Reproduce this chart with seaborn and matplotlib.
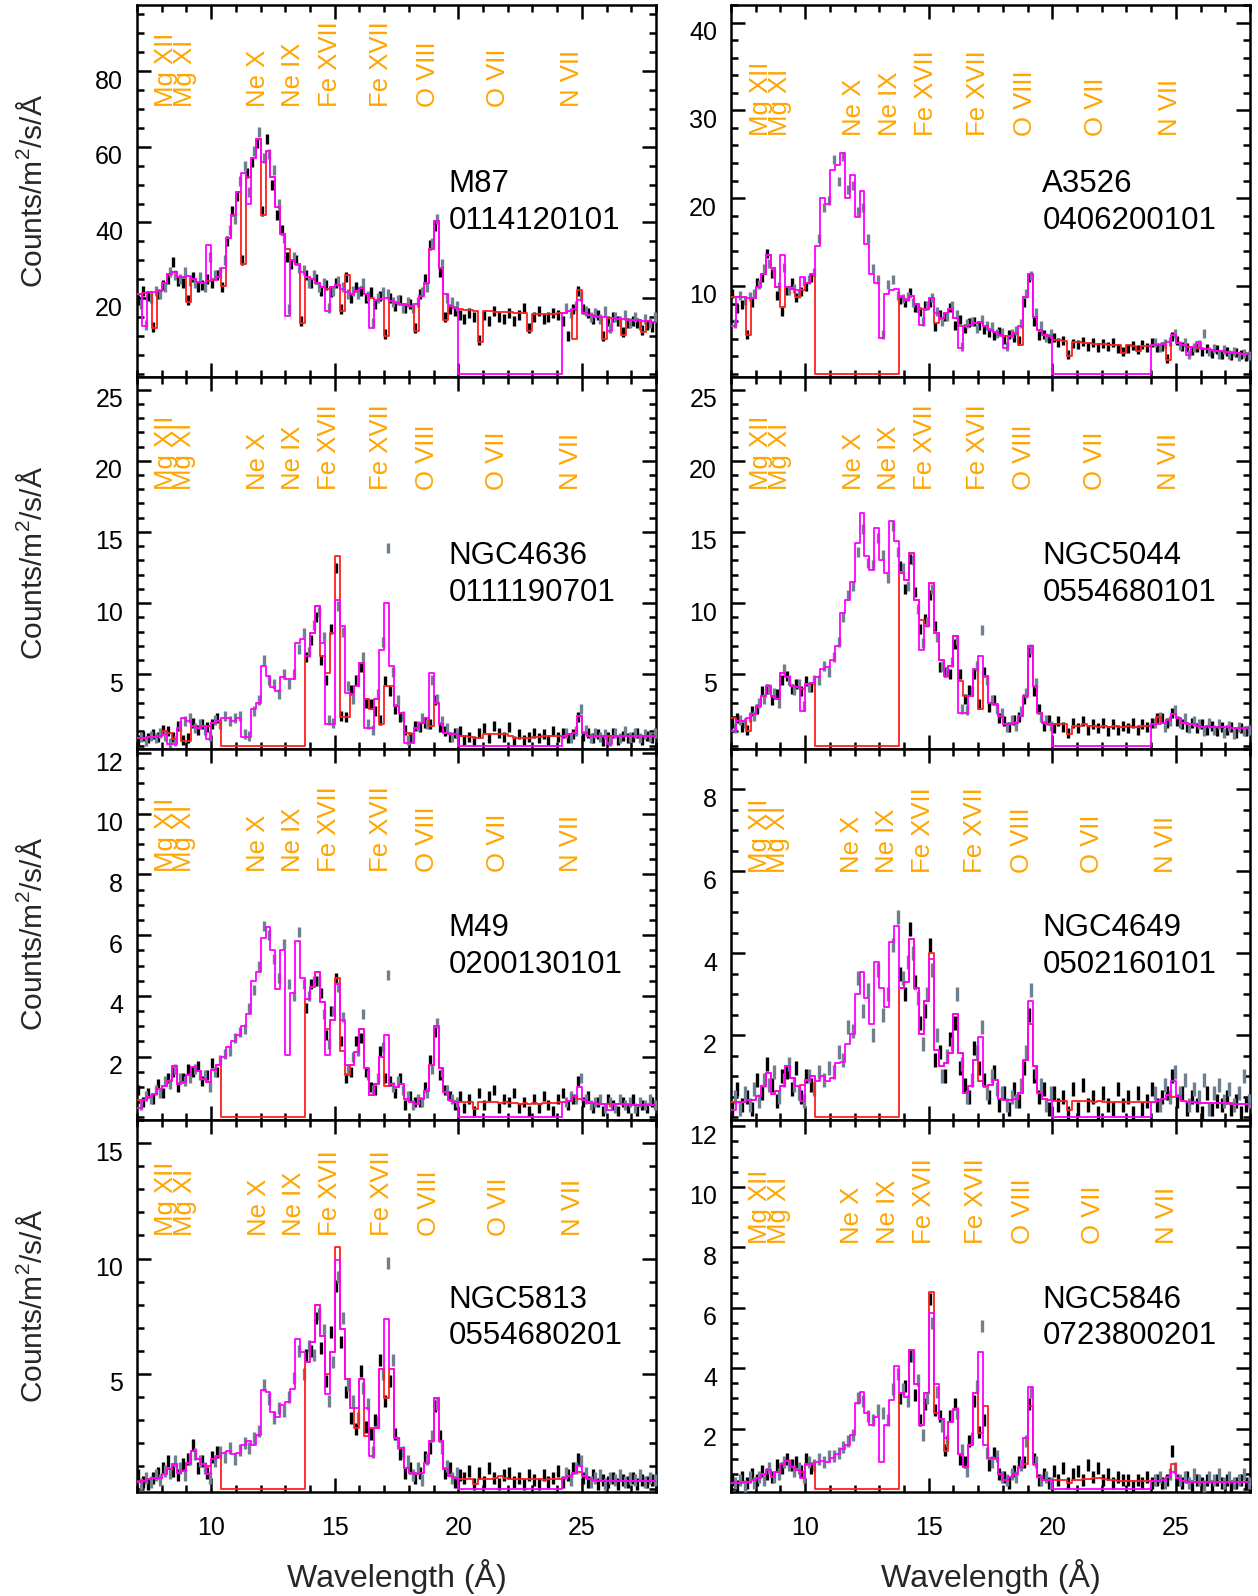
import numpy as np
import pandas as pd
import matplotlib
matplotlib.use("Agg")
import matplotlib.pyplot as plt
import matplotlib.transforms as mtransforms
import seaborn as sns
from matplotlib.ticker import MultipleLocator, FixedLocator

nan = float("nan")

# ---------------------------------------------------------------- data
galaxies = ["M87", "A3526", "NGC4636", "NGC5044", "M49", "NGC4649", "NGC5813", "NGC5846"]
obsids = ["0114120101", "0406200101", "0111190701", "0554680101",
          "0200130101", "0502160101", "0554680201", "0723800201"]
redshifts = [0.0043, 0.0114, 0.0031, 0.0093, 0.0033, 0.0037, 0.0066, 0.0057]
line_names = ["Mg XII", "Mg XI", "Ne X", "Ne IX", "Fe XVII", "Fe XVII", "O VIII", "O VII", "N VII"]
line_waves = [8.42, 9.17, 12.13, 13.55, 15.01, 17.10, 18.97, 21.80, 24.78]

# wavelength bin edges (Angstrom), 0.2 A bins from 7 to 28
wl_edges = np.round(7.0 + 0.2 * np.arange(106), 2)

# chip gaps (RGS1 = red, RGS2 = magenta)
rgs1_gaps = [None, (10.4, 13.8), (10.4, 13.8), (10.4, 13.8), (10.4, 13.8), (10.4, 13.8), (10.4, 13.8), (10.4, 13.8)]
rgs2_gaps = [(20.0, 24.2), (20.0, 24.0), (20.0, 24.2), (20.0, 24.0), (20.0, 24.2), (20.0, 24.0), (20.0, 24.2), (20.0, 24.0)]

# ---- M87
M87_model = [21.0, 21.3, 21.5, 21.7, 22.0, 24.0, 26.5, 27.0, 25.5, 25.5,
             25.8, 25.0, 24.3, 24.0, 24.5, 24.8, 25.5, 28.0, 36.0, 42.0,
             48.0, 53.0, 52.0, 57.0, 62.0, 56.0, 59.0, 52.0, 44.0, 37.0,
             33.0, 30.0, 29.0, 27.0, 25.5, 25.0, 24.0, 23.0, 22.5, 23.0,
             23.5, 22.5, 21.5, 21.0, 22.0, 22.8, 21.0, 20.0, 19.5, 19.8,
             20.0, 19.2, 18.8, 18.5, 18.3, 18.0, 18.5, 20.5, 24.0, 33.0,
             40.5, 28.0, 21.0, 18.0, 17.3, 17.0, 16.9, 16.8, 16.7, 16.6,
             16.5, 16.5, 16.4, 16.4, 16.3, 16.3, 16.2, 16.2, 16.1, 16.1,
             15.9, 15.9, 15.8, 15.8, 15.9, 16.0, 16.2, 16.6, 17.0, 19.5,
             16.0, 15.6, 15.3, 15.1, 15.0, 14.8, 14.7, 14.5, 14.4, 14.3,
             14.2, 14.1, 14.0, 13.9, 13.8]
M87_red_fix = [(7.6, 7.8, 12.2), (9.0, 9.2, 19.0), (10.4, 10.6, 23.3), (11.2, 11.4, 29.0),
               (12.0, 12.2, 42.0), (13.6, 13.8, 13.5), (15.2, 15.4, 16.5), (15.4, 15.6, 26.0),
               (17.0, 17.2, 10.0), (18.2, 18.4, 11.3), (19.4, 19.6, 14.3), (20.8, 21.0, 8.3),
               (22.8, 23.0, 11.3), (24.6, 24.8, 9.1), (24.8, 25.0, 22.2), (25.8, 26.0, 9.1),
               (26.6, 26.8, 10.3), (27.4, 27.6, 11.0)]
M87_mag_fix = [(7.2, 7.4, 12.6), (9.8, 10.0, 34.0), (11.4, 11.6, 45.0), (13.0, 13.2, 15.2),
               (14.6, 14.8, 16.5), (16.4, 16.6, 12.2), (26.0, 26.2, 11.3)]
M87_black = [19.5, 22.0, 20.5, 12.5, 21.0, 23.5, 25.0, 29.5, 24.5, 24.0,
             19.5, 25.5, 23.0, 23.5, 25.0, 24.0, 26.0, 23.0, 35.0, 43.0,
             47.0, 30.0, 53.0, 56.0, 61.0, 43.0, 62.0, 50.0, 42.0, 38.0,
             31.0, 29.0, 30.0, 14.0, 26.0, 24.0, 25.0, 22.0, 23.5, 21.5,
             24.0, 17.0, 25.5, 20.0, 23.0, 22.0, 20.0, 21.5, 18.5, 20.5,
             10.5, 20.0, 18.0, 19.5, 17.5, 18.5, 12.0, 21.0, 25.0, 34.0,
             39.0, 27.0, 15.0, 17.0, 16.5, 15.5, 14.5, 16.0, 15.0, 9.0,
             15.5, 14.0, 16.5, 15.0, 14.5, 16.0, 14.0, 15.5, 17.5, 12.0,
             15.0, 16.5, 14.5, 15.0, 16.0, 15.5, 14.0, 10.0, 17.0, 22.0,
             17.0, 16.0, 14.5, 15.5, 10.0, 14.0, 15.0, 14.0, 11.0, 13.5,
             14.0, 13.5, 11.5, 13.0, 12.5]
M87_gray = [18.5, 13.0, 20.0, 22.0, 21.0, 23.0, 27.0, 26.0, 25.0, 27.0,
            24.5, 24.0, 25.5, 23.0, 31.0, 26.0, 27.0, 30.0, 38.0, 41.0,
            51.0, 55.0, 48.0, 59.0, 64.0, 57.0, 58.0, 54.0, 45.0, 36.0,
            17.0, 31.0, 28.0, 27.5, 24.0, 26.0, 23.0, 24.0, 17.5, 22.0,
            24.5, 23.0, 21.0, 22.0, 21.0, 24.0, 20.5, 13.5, 20.0, 21.5,
            21.0, 19.0, 19.5, 17.5, 19.0, 17.5, 19.0, 21.5, 23.0, 34.5,
            41.0, 29.0, 20.0, 19.0, 18.0, nan, nan, nan, nan, nan,
            nan, nan, nan, nan, nan, nan, nan, nan, nan, nan,
            nan, nan, nan, nan, nan, nan, 17.5, 16.0, 18.0, 20.5,
            16.5, 15.0, 16.0, 14.5, 16.5, 12.0, 15.0, 14.0, 15.5, 13.5,
            15.0, 13.0, 14.5, 13.5, 15.0]

# ---- A3526
A3526_model = [8.8, 8.8, 8.8, 8.6, 8.6, 9.9, 11.4, 13.5, 12.0, 9.9,
               9.9, 9.9, 9.7, 9.5, 11.0, 10.3, 11.4, 14.5, 20.0, 19.3,
               23.2, 23.8, 25.2, 20.0, 22.6, 17.8, 20.8, 14.8, 11.4, 10.3,
               9.5, 9.1, 9.5, 9.7, 8.8, 8.4, 8.9, 8.0, 7.4, 7.4,
               8.6, 6.9, 6.3, 6.9, 7.4, 6.3, 5.4, 5.4, 5.6, 5.8,
               5.9, 5.4, 5.0, 4.8, 4.4, 4.3, 4.3, 4.6, 5.4, 8.8,
               11.4, 6.5, 5.0, 4.4, 4.3, 3.9, 3.8, 3.7, 3.6, 3.6,
               3.6, 3.5, 3.5, 3.4, 3.4, 3.4, 3.3, 3.3, 3.3, 3.3,
               3.3, 3.2, 3.2, 3.2, 3.2, 3.3, 3.3, 3.4, 3.6, 4.4,
               3.5, 3.3, 3.1, 3.0, 2.9, 2.8, 2.8, 2.7, 2.6, 2.6,
               2.5, 2.4, 2.4, 2.3, 2.2]
A3526_red_fix = [(7.6, 7.8, 4.4), (9.0, 9.2, 7.6), (9.6, 9.8, 8.8), (9.8, 10.0, 9.5),
                 (15.2, 15.4, 5.8), (18.6, 18.8, 3.3), (20.6, 20.8, 2.0), (22.8, 23.0, 2.4),
                 (23.4, 23.6, 2.6), (24.6, 24.8, 1.6)]
A3526_mag_fix = [(7.0, 7.2, 5.4), (9.0, 9.2, 13.5), (13.0, 13.2, 4.1), (14.6, 14.8, 5.6),
                 (16.2, 16.4, 2.9), (18.0, 18.2, 2.9), (25.4, 25.6, 2.1), (25.8, 26.0, 3.6)]
A3526_black = [9.2, 7.5, 8.0, 4.5, 8.2, 10.5, 11.0, 13.8, 11.5, 9.0,
               7.2, 9.6, 10.4, 8.8, 9.4, 10.0, 11.0, nan, nan, nan,
               nan, nan, nan, nan, nan, nan, nan, nan, nan, nan,
               nan, nan, nan, nan, 8.5, 8.2, 9.3, 7.6, 7.1, 7.8,
               8.2, 5.5, 6.8, 6.6, 7.6, 5.6, 6.2, 5.2, 5.9, 6.0,
               5.6, 5.1, 4.8, 4.4, 4.9, 4.0, 4.5, 4.2, 3.8, 8.2,
               11.0, 6.0, 4.4, 4.5, 4.1, 4.2, 3.6, 3.9, 2.3, 3.5,
               3.4, 3.7, 3.2, 3.6, 3.1, 3.5, 3.2, 3.6, 2.9, 2.6,
               2.9, 3.3, 2.8, 3.4, 3.1, 3.6, 3.0, 3.2, 1.8, 4.3,
               3.8, 3.2, 3.0, 2.7, 3.1, 2.6, 2.9, 2.4, 2.8, 2.3,
               2.6, 2.1, 2.5, 2.2, 2.0]
A3526_gray = [5.8, 9.0, 8.4, 8.9, 9.2, 10.2, 12.0, 12.6, 11.5, 10.0,
              12.2, 9.6, 9.8, 9.2, 10.6, 10.8, 11.6, 15.5, 19.0, 19.8,
              24.5, 22.0, 24.8, 21.0, 21.5, 18.5, 19.0, 15.5, 12.0, 10.8,
              4.5, 10.2, 10.8, 9.0, 8.6, 8.9, 8.2, 7.5, 6.0, 7.8,
              8.8, 7.2, 6.0, 6.6, 7.8, 6.8, 3.2, 5.8, 6.0, 5.2,
              6.2, 5.6, 5.4, 4.6, 4.8, 3.2, 4.6, 5.0, 5.8, 9.2,
              11.2, 7.0, 5.6, 4.2, 4.6, nan, nan, nan, nan, nan,
              nan, nan, nan, nan, nan, nan, nan, nan, nan, nan,
              nan, nan, nan, nan, nan, 3.6, 3.1, 3.5, 3.7, 4.6,
              3.3, 3.6, 2.3, 3.1, 3.4, 4.6, 2.6, 2.9, 2.3, 2.8,
              2.2, 2.6, 2.0, 2.4, 2.1]

# ---- NGC4636
NGC4636_model = [0.5, 0.5, 0.6, 0.6, 0.7, 0.8, 0.85, 0.8, 1.2, 1.9,
                 1.75, 1.4, 1.2, 1.4, 1.4, 1.6, 1.7, 1.9, 1.9, 1.7,
                 1.9, 2.0, 2.0, 2.6, 3.0, 5.6, 4.9, 4.1, 3.8, 4.8,
                 4.65, 4.65, 7.2, 7.5, 6.3, 7.9, 9.8, 7.2, 5.1, 7.9,
                 10.2, 8.4, 3.7, 3.6, 4.2, 5.8, 3.3, 2.6, 3.3, 6.7,
                 10.0, 5.6, 2.8, 2.3, 0.9, 0.8, 1.2, 1.6, 1.9, 5.1,
                 3.0, 1.5, 0.9, 0.8, 0.8, 0.7, 0.7, 0.6, 0.5, 0.5,
                 0.8, 0.8, 0.8, 0.8, 0.8, 0.7, 0.5, 0.5, 0.5, 0.5,
                 0.6, 0.6, 0.7, 0.7, 0.7, 0.7, 0.7, 0.8, 0.9, 2.1,
                 0.9, 0.7, 0.7, 0.7, 0.7, 0.7, 0.7, 0.7, 0.7, 0.7,
                 0.7, 0.7, 0.7, 0.7, 0.7]
NGC4636_red_fix = [(8.0, 8.2, 1.05), (8.4, 8.6, 0.47), (8.8, 9.2, 0.35), (14.4, 14.6, 6.3),
                   (15.0, 15.2, 13.3), (15.2, 15.6, 2.0), (16.2, 16.4, 3.3), (16.8, 17.0, 1.5),
                   (17.0, 17.4, 4.2), (18.8, 19.0, 1.4)]
NGC4636_mag_fix = [(8.2, 8.6, 0.1), (9.8, 10.0, 0.47), (11.2, 11.6, 0.6), (14.6, 15.0, 1.5),
                   (16.2, 16.6, 1.2), (17.8, 18.2, 0.2), (26.0, 26.2, 0.1)]
NGC4636_black = [0.4, 0.7, 0.5, 0.8, 0.6, 1.1, 1.0, 0.6, 1.4, 0.4,
                 0.5, 1.6, 1.1, 1.5, 1.3, 1.5, 1.9, nan, nan, nan,
                 nan, nan, nan, nan, nan, nan, nan, nan, nan, nan,
                 nan, nan, nan, nan, 6.2, 7.4, 9.0, 6.0, 4.6, 8.2,
                 12.5, 2.1, 2.0, 3.9, 4.6, 5.5, 3.0, 2.9, 2.4, 1.8,
                 4.5, 3.8, 2.6, 2.0, 1.1, 0.6, 1.4, 1.3, 1.6, 1.5,
                 3.2, 1.3, 1.0, 0.6, 0.9, 1.0, 0.4, 0.6, 0.3, 0.9,
                 1.2, 0.5, 1.4, 0.9, 0.6, 1.3, 0.3, 0.8, 0.4, 0.6,
                 0.9, 0.5, 0.8, 0.4, 1.0, 0.6, 0.9, 0.5, 0.8, 2.0,
                 0.7, 0.9, 0.5, 0.8, 0.3, 0.6, 0.9, 0.4, 0.7, 0.5,
                 0.6, 0.9, 0.4, 0.7, 0.5]
NGC4636_gray = [0.6, 0.3, 0.7, 0.5, 0.9, 0.7, 0.2, 0.3, 1.4, 1.7,
                1.9, 1.2, 1.5, 1.1, 0.7, 1.8, 1.5, 2.1, 1.7, 1.9,
                2.1, 0.8, 0.7, 2.4, 3.2, 6.0, 4.6, 4.3, 3.6, 5.0,
                4.3, 5.0, 6.8, 7.9, 6.6, 8.5, 9.4, 7.6, 1.8, 1.6,
                9.8, 8.0, 4.2, 3.3, 4.6, 6.2, 1.5, 1.1, 3.6, 7.3,
                13.9, 5.2, 3.2, 2.1, 0.4, 0.5, 1.4, 1.9, 1.5, 4.6,
                3.3, 1.7, 1.2, 0.6, 0.9, nan, nan, nan, nan, nan,
                nan, nan, nan, nan, nan, nan, nan, nan, nan, nan,
                nan, nan, nan, nan, nan, nan, 0.9, 0.5, 1.0, 2.6,
                1.1, 0.5, 0.9, 0.6, 0.8, 0.3, 0.9, 0.5, 1.0, 0.6,
                0.9, 0.5, 0.8, 0.6, 0.9]

# ---- NGC5044
NGC5044_model = [1.75, 1.75, 1.75, 1.9, 2.2, 2.8, 3.5, 4.2, 3.5, 3.3,
                 5.1, 4.8, 4.2, 4.1, 4.0, 4.3, 4.4, 4.8, 5.35, 5.5,
                 6.0, 7.0, 9.3, 10.2, 11.5, 14.2, 16.3, 13.3, 12.3, 15.3,
                 13.0, 12.1, 15.8, 14.4, 12.1, 11.6, 13.5, 10.2, 8.8, 8.4,
                 11.4, 7.9, 6.0, 4.9, 5.6, 7.7, 5.6, 3.5, 3.5, 5.35,
                 6.3, 4.9, 3.0, 2.9, 2.1, 1.5, 1.5, 1.6, 2.1, 3.5,
                 7.0, 4.2, 2.3, 1.6, 1.5, 1.5, 1.5, 1.5, 0.8, 1.4,
                 1.4, 1.5, 1.4, 1.4, 1.3, 1.4, 1.3, 1.4, 1.3, 1.3,
                 1.4, 1.3, 1.3, 1.4, 1.4, 1.5, 1.5, 1.6, 1.8, 2.2,
                 1.9, 1.6, 1.5, 1.5, 1.4, 1.3, 1.4, 1.3, 1.3, 1.3,
                 1.3, 1.2, 1.2, 1.2, 1.2]
NGC5044_red_fix = [(7.0, 7.2, 1.9), (7.6, 7.8, 1.05), (16.2, 16.4, 4.5), (17.0, 17.2, 2.6), (24.2, 24.4, 2.0)]
NGC5044_mag_fix = [(7.0, 7.2, 1.05), (9.8, 10.0, 2.4), (14.6, 14.8, 6.7), (16.2, 16.6, 2.3)]
NGC5044_black = [1.6, 1.9, 1.3, 1.1, 2.4, 2.6, 3.8, 4.0, 3.2, 3.6,
                 4.6, 4.9, 4.0, 4.3, 3.8, 4.5, 4.1, nan, nan, nan,
                 nan, nan, nan, nan, nan, nan, nan, nan, nan, nan,
                 nan, nan, nan, nan, 12.6, 11.0, 13.1, 10.8, 8.2, 8.9,
                 10.6, 8.4, 5.5, 5.2, 5.0, 7.1, 5.0, 3.3, 3.9, 5.0,
                 2.9, 5.2, 2.7, 3.2, 1.9, 1.7, 1.3, 1.8, 2.0, 3.3,
                 6.6, 3.8, 2.6, 1.4, 1.8, 1.2, 1.7, 1.3, 0.9, 1.6,
                 1.2, 1.7, 1.1, 1.5, 1.2, 1.6, 1.0, 1.5, 1.1, 1.4,
                 1.2, 1.6, 1.1, 1.5, 1.3, 1.6, 1.9, 1.9, 1.6, 2.3,
                 1.7, 1.5, 1.3, 1.6, 1.2, 1.5, 1.1, 1.4, 1.0, 1.3,
                 1.1, 1.3, 0.9, 1.2, 1.0]
NGC5044_gray = [1.2, 1.8, 1.6, 2.0, 2.1, 3.0, 3.3, 4.0, 3.7, 3.0,
                5.4, 4.6, 3.9, 4.3, 2.8, 4.1, 4.6, 4.6, 5.6, 5.2,
                6.2, 7.3, 9.0, 10.6, 11.2, 13.6, 15.2, 12.8, 12.7, 14.6,
                13.4, 11.8, 15.4, 13.6, 12.5, 11.2, 13.0, 9.6, 7.2, 8.7,
                11.0, 7.6, 5.6, 5.2, 5.9, 7.4, 2.6, 2.5, 3.8, 5.6,
                8.1, 4.6, 3.2, 2.6, 2.3, 1.3, 1.8, 1.4, 2.4, 3.7,
                6.8, 4.4, 2.0, 1.8, 1.4, nan, nan, nan, nan, nan,
                nan, nan, nan, nan, nan, nan, nan, nan, nan, nan,
                nan, nan, nan, nan, nan, 1.6, 2.0, 1.3, 1.7, 2.5,
                1.6, 1.9, 1.2, 1.7, 1.5, 1.0, 1.6, 1.1, 1.5, 0.9,
                1.4, 0.8, 1.3, 1.0, 1.1]

# ---- M49
M49_model = [0.56, 0.58, 0.67, 0.77, 0.93, 1.04, 1.2, 1.68, 1.1, 1.15,
             1.41, 1.65, 1.52, 1.25, 1.15, 1.57, 1.73, 2.0, 2.3, 2.5,
             2.7, 3.0, 3.4, 4.5, 4.8, 5.9, 6.27, 5.5, 4.24, 5.5,
             4.6, 4.1, 5.8, 4.6, 3.9, 4.3, 4.8, 3.8, 2.9, 3.2,
             4.4, 3.2, 1.73, 1.73, 2.16, 2.9, 1.63, 0.72, 1.1, 2.0,
             2.7, 1.1, 0.99, 1.1, 0.61, 0.5, 0.45, 0.61, 0.88, 1.73,
             3.0, 1.63, 0.83, 0.58, 0.5, 0.5, 0.5, 0.5, 0.26, 0.5,
             0.5, 0.52, 0.5, 0.48, 0.5, 0.47, 0.48, 0.45, 0.47, 0.45,
             0.46, 0.45, 0.47, 0.46, 0.48, 0.5, 0.52, 0.55, 0.7, 0.99,
             0.56, 0.48, 0.46, 0.45, 0.45, 0.44, 0.44, 0.43, 0.43, 0.42,
             0.42, 0.41, 0.41, 0.4, 0.4]
M49_red_fix = [(15.0, 15.2, 4.6), (15.2, 15.4, 2.2), (15.4, 15.6, 1.4), (17.0, 17.2, 1.04), (24.8, 25.0, 0.6)]
M49_mag_fix = [(7.0, 7.2, 0.3), (13.0, 13.2, 2.05), (14.6, 14.8, 2.05), (26.0, 26.2, 0.24)]
M49_black = [0.9, 0.5, 0.8, 0.6, 1.1, 0.8, 1.3, 1.5, 1.0, 1.3,
             1.6, 1.5, 1.7, 1.2, 1.4, 1.8, 1.5, nan, nan, nan,
             nan, nan, nan, nan, nan, nan, nan, nan, nan, nan,
             nan, nan, nan, nan, 3.6, 4.4, 4.5, 4.1, 2.7, 3.5,
             4.6, 2.5, 1.3, 1.5, 2.5, 2.6, 1.5, 1.0, 0.9, 2.2,
             1.3, 1.2, 0.8, 1.3, 0.4, 0.7, 0.5, 0.5, 1.0, 1.9,
             2.8, 1.4, 0.9, 0.7, 0.4, 0.7, 0.3, 0.6, 0.2, 0.8,
             0.4, 0.7, 0.9, 0.3, 0.6, 0.5, 0.8, 0.3, 0.5, 0.2,
             0.6, 0.3, 0.7, 0.4, 0.2, 0.6, 0.8, 0.4, 0.6, 1.2,
             0.5, 0.7, 0.3, 0.5, 0.2, 0.6, 0.4, 0.2, 0.5, 0.3,
             0.6, 0.2, 0.4, 0.3, 0.5]
M49_gray = [0.4, 0.7, 0.6, 0.9, 0.8, 1.2, 1.1, 1.6, 1.3, 1.2,
            1.3, 1.6, 1.4, 1.4, 1.0, 1.5, 1.9, 2.1, 2.2, 2.6,
            2.8, 2.9, 3.6, 4.2, 5.0, 6.3, 6.0, 5.2, 4.6, 5.7,
            4.4, 4.0, 6.1, 4.4, 4.0, 4.5, 4.5, 3.4, 2.4, 3.5,
            4.3, 3.3, 1.6, 2.0, 2.2, 3.4, 1.4, 0.9, 1.3, 2.3,
            4.7, 1.0, 1.2, 0.9, 0.7, 0.4, 0.6, 0.5, 0.8, 1.6,
            3.1, 1.5, 0.9, 0.6, 0.5, nan, nan, nan, nan, nan,
            nan, nan, nan, nan, nan, nan, nan, nan, nan, nan,
            nan, nan, nan, nan, nan, nan, 0.5, 0.7, 0.6, 1.3,
            0.6, 0.4, 0.5, 0.6, 0.3, 0.5, 0.3, 0.6, 0.4, 0.5,
            0.3, 0.5, 0.4, 0.6, 0.4]

# ---- NGC4649
NGC4649_model = [0.37, 0.37, 0.38, 0.41, 0.41, 0.53, 0.76, 1.08, 0.57, 0.65,
                 0.76, 1.24, 0.96, 0.76, 0.8, 0.92, 1.0, 0.88, 1.0, 0.88,
                 0.96, 1.32, 1.36, 1.8, 2.04, 3.0, 3.55, 2.92, 2.28, 3.8,
                 3.16, 2.68, 4.27, 4.67, 3.16, 3.31, 4.35, 3.16, 2.04, 2.84,
                 3.87, 1.64, 1.24, 1.32, 1.56, 2.52, 1.56, 0.6, 0.76, 1.4,
                 1.96, 0.76, 0.8, 0.92, 0.45, 0.41, 0.41, 0.45, 0.6, 1.4,
                 2.84, 1.24, 0.6, 0.45, 0.41, 0.4, 0.4, 0.39, 0.17, 0.39,
                 0.39, 0.4, 0.39, 0.38, 0.39, 0.38, 0.38, 0.37, 0.38, 0.37,
                 0.38, 0.37, 0.37, 0.37, 0.38, 0.38, 0.4, 0.45, 0.55, 0.88,
                 0.53, 0.4, 0.37, 0.37, 0.36, 0.36, 0.35, 0.35, 0.34, 0.34,
                 0.34, 0.33, 0.33, 0.33, 0.33]
NGC4649_red_fix = [(15.0, 15.2, 4.0), (17.0, 17.2, 0.88), (19.0, 19.2, 2.28), (24.8, 25.0, 0.5)]
NGC4649_mag_fix = [(7.0, 7.2, 0.17), (9.8, 10.0, 0.4)]
NGC4649_black = [0.2, 0.7, 0.3, 0.5, 0.2, 0.9, 0.6, 1.3, 0.8, 0.4,
                 1.0, 1.1, 0.7, 1.2, 0.5, 1.0, 0.8, nan, nan, nan,
                 nan, nan, nan, nan, nan, nan, nan, nan, nan, nan,
                 nan, nan, nan, nan, 3.5, 3.0, 4.6, 3.3, 2.3, 2.6,
                 4.2, 1.4, 1.6, 1.0, 1.9, 2.3, 1.2, 0.8, 0.5, 1.7,
                 1.2, 0.9, 0.5, 1.1, 0.3, 0.6, 0.2, 0.7, 0.4, 1.2,
                 2.5, 1.0, 0.5, 0.7, 0.2, 0.6, 0.3, 0.5, 0.1, 0.7,
                 0.2, 0.8, 0.3, 0.5, 0.1, 0.6, 0.3, 0.2, 0.7, 0.3,
                 0.5, 0.1, 0.6, 0.2, 0.4, 0.7, 0.3, 0.5, 0.6, 1.0,
                 0.4, 0.6, 0.2, 0.5, 0.3, 0.1, 0.6, 0.2, 0.4, 0.3,
                 0.5, 0.2, 0.4, 0.1, 0.3]
NGC4649_gray = [0.5, 0.2, 0.6, 0.3, 0.7, 0.4, 0.9, 0.8, 1.1, 0.5,
                0.9, 1.3, 0.8, 0.6, 0.4, 1.0, 0.7, 1.1, 0.9, 1.2,
                1.1, 1.6, 1.4, 2.2, 2.1, 3.4, 2.6, 3.1, 2.0, 3.6,
                2.5, 3.0, 4.2, 4.9, 3.4, 3.8, 4.0, 2.9, 1.8, 3.0,
                3.6, 2.0, 1.0, 1.5, 1.8, 3.0, 1.3, 0.5, 0.9, 1.6,
                2.2, 0.6, 1.0, 0.7, 0.6, 0.3, 0.5, 0.4, 0.8, 1.6,
                3.1, 1.1, 0.8, 0.3, 0.6, nan, nan, nan, nan, nan,
                nan, nan, nan, nan, nan, nan, nan, nan, nan, nan,
                nan, nan, nan, nan, nan, 0.6, 0.3, 0.8, 0.5, 1.1,
                0.6, 0.9, 0.3, 0.7, 0.5, 0.9, 0.2, 0.6, 0.8, 0.4,
                0.7, 0.3, 0.6, 1.0, 0.4]

# ---- NGC5813
NGC5813_model = [0.36, 0.36, 0.43, 0.5, 0.5, 0.64, 0.86, 1.07, 0.71, 0.79,
                 1.14, 1.64, 1.29, 1.07, 1.0, 1.29, 1.43, 1.57, 1.64, 1.5,
                 1.57, 1.93, 2.07, 1.93, 2.36, 4.29, 4.21, 3.36, 3.14, 3.64,
                 3.79, 4.36, 6.5, 5.93, 5.5, 6.36, 8.0, 6.64, 4.64, 5.93,
                 9.93, 6.93, 4.79, 3.5, 3.5, 4.79, 3.5, 1.43, 2.64, 5.21,
                 7.36, 5.21, 2.21, 1.79, 0.93, 0.71, 0.64, 0.71, 1.14, 2.07,
                 3.93, 2.07, 0.86, 0.57, 0.5, 0.45, 0.44, 0.43, 0.21, 0.43,
                 0.43, 0.44, 0.5, 0.55, 0.47, 0.44, 0.43, 0.42, 0.43, 0.42,
                 0.42, 0.42, 0.41, 0.42, 0.43, 0.45, 0.47, 0.55, 0.7, 1.0,
                 0.57, 0.42, 0.38, 0.36, 0.36, 0.36, 0.36, 0.36, 0.35, 0.35,
                 0.35, 0.35, 0.35, 0.35, 0.35]
NGC5813_red_fix = [(14.6, 14.8, 5.0), (15.0, 15.2, 10.5), (15.8, 16.0, 2.64), (16.2, 16.4, 2.3),
                   (16.4, 16.6, 2.64), (17.0, 17.2, 3.93), (24.8, 25.0, 0.75)]
NGC5813_mag_fix = [(7.0, 7.2, 0.29), (9.8, 10.0, 0.64), (14.6, 14.8, 4.14)]
NGC5813_black = [0.6, 0.3, 0.2, 0.5, 0.7, 0.9, 1.2, 0.8, 0.6, 1.1,
                 1.3, 1.9, 0.9, 1.2, 0.7, 1.4, 1.6, nan, nan, nan,
                 nan, nan, nan, nan, nan, nan, nan, nan, nan, nan,
                 nan, nan, nan, nan, 5.8, 6.0, 7.4, 6.1, 4.7, 6.8,
                 8.8, 6.4, 4.2, 3.1, 2.6, 5.1, 2.7, 2.4, 3.0, 5.6,
                 3.8, 4.7, 2.4, 1.5, 0.7, 0.9, 0.5, 0.7, 1.4, 1.8,
                 3.6, 2.3, 0.7, 0.9, 0.3, 0.6, 0.5, 0.8, 0.2, 0.7,
                 0.3, 0.9, 0.5, 0.2, 0.6, 0.7, 0.3, 0.5, 0.2, 0.6,
                 0.4, 0.2, 0.6, 0.3, 0.5, 0.8, 0.3, 0.6, 0.9, 1.3,
                 0.5, 0.3, 0.6, 0.2, 0.4, 0.3, 0.5, 0.2, 0.4, 0.3,
                 0.5, 0.2, 0.4, 0.3, 0.4]
NGC5813_gray = [0.2, 0.5, 0.3, 0.6, 0.4, 0.8, 0.7, 1.2, 0.9, 0.6,
                1.3, 1.5, 1.2, 0.9, 0.5, 1.2, 1.6, 1.4, 1.8, 1.3,
                1.7, 2.0, 1.8, 2.2, 2.5, 4.5, 3.9, 3.1, 3.5, 3.4,
                4.0, 4.8, 6.0, 5.0, 6.2, 5.8, 7.6, 6.9, 3.8, 5.5,
                9.2, 7.4, 4.5, 3.8, 3.1, 4.4, 3.7, 1.6, 2.9, 5.0,
                9.8, 5.6, 2.0, 1.6, 1.2, 0.6, 0.9, 0.4, 1.3, 2.3,
                3.7, 1.8, 1.0, 0.5, 0.7, nan, nan, nan, nan, nan,
                nan, nan, nan, nan, nan, nan, nan, nan, nan, nan,
                nan, nan, nan, nan, nan, nan, 0.7, 0.4, 0.9, 1.2,
                0.7, 0.3, 0.5, 0.6, 0.2, 0.5, 0.4, 0.6, 0.3, 0.5,
                0.4, 0.6, 0.3, 0.5, 0.4]

# ---- NGC5846
NGC5846_model = [0.19, 0.21, 0.24, 0.24, 0.3, 0.35, 0.51, 0.62, 0.4, 0.56,
                 0.83, 0.94, 0.72, 0.62, 0.56, 0.83, 0.83, 0.88, 0.94, 0.88,
                 1.04, 1.15, 1.31, 1.47, 1.79, 2.85, 3.2, 2.53, 2.11, 2.37,
                 2.4, 2.11, 2.96, 4.07, 3.17, 3.06, 4.6, 3.49, 2.11, 3.17,
                 5.83, 3.49, 2.32, 1.68, 2.21, 2.64, 1.15, 0.72, 1.47, 3.17,
                 4.55, 1.47, 1.04, 1.04, 0.51, 0.3, 0.4, 0.51, 0.72, 1.68,
                 3.38, 0.83, 0.4, 0.3, 0.3, 0.3, 0.3, 0.3, 0.2, 0.3,
                 0.31, 0.32, 0.33, 0.35, 0.35, 0.33, 0.3, 0.3, 0.28, 0.28,
                 0.27, 0.26, 0.26, 0.25, 0.26, 0.25, 0.26, 0.3, 0.4, 0.56,
                 0.35, 0.26, 0.24, 0.24, 0.24, 0.24, 0.24, 0.23, 0.23, 0.23,
                 0.23, 0.23, 0.23, 0.23, 0.23]
NGC5846_red_fix = [(15.0, 15.2, 6.52), (15.2, 15.4, 2.5), (15.6, 15.8, 1.26), (17.0, 17.2, 1.84),
                   (17.2, 17.4, 2.74), (18.8, 19.0, 0.83), (19.0, 19.2, 2.74), (24.8, 25.0, 0.83)]
NGC5846_mag_fix = [(9.8, 10.0, 0.35), (13.0, 13.2, 0.88)]
NGC5846_black = [0.3, 0.1, 0.4, 0.2, 0.5, 0.3, 0.6, 0.5, 0.4, 0.8,
                 0.7, 1.0, 0.8, 0.9, 0.6, 1.0, 0.7, nan, nan, nan,
                 nan, nan, nan, nan, nan, nan, nan, nan, nan, nan,
                 nan, nan, nan, nan, 3.0, 3.4, 4.4, 3.1, 2.3, 2.8,
                 6.3, 2.6, 2.4, 1.3, 2.4, 2.8, 1.0, 0.9, 1.6, 2.9,
                 1.9, 2.3, 0.8, 1.2, 0.5, 0.4, 0.2, 0.6, 0.9, 0.9,
                 2.8, 1.0, 0.3, 0.5, 0.2, 0.6, 0.3, 0.7, 0.2, 0.5,
                 0.6, 0.3, 0.8, 0.4, 0.7, 0.3, 0.5, 0.2, 0.4, 0.3,
                 0.3, 0.1, 0.3, 0.2, 0.4, 0.2, 0.3, 0.2, 0.3, 1.26,
                 0.3, 0.2, 0.4, 0.1, 0.3, 0.2, 0.3, 0.1, 0.3, 0.2,
                 0.3, 0.1, 0.2, 0.3, 0.2]
NGC5846_gray = [0.2, 0.3, 0.1, 0.4, 0.2, 0.4, 0.3, 0.7, 0.4, 0.5,
                0.9, 0.8, 0.6, 0.7, 0.4, 0.9, 0.8, 1.0, 0.9, 1.1,
                1.1, 1.2, 1.4, 1.6, 1.8, 3.0, 2.9, 2.4, 2.3, 2.6,
                2.5, 2.3, 3.3, 3.8, 3.3, 2.9, 4.4, 3.6, 1.8, 3.0,
                5.5, 3.2, 2.1, 1.6, 2.4, 2.5, 1.3, 0.6, 1.7, 3.4,
                5.4, 1.2, 0.9, 1.1, 0.4, 0.3, 0.5, 0.4, 0.8, 1.6,
                3.2, 0.9, 0.3, 0.4, 0.2, nan, nan, nan, nan, nan,
                nan, nan, nan, nan, nan, nan, nan, nan, nan, nan,
                nan, nan, nan, nan, nan, 0.3, 0.4, 0.2, 0.5, 0.7,
                0.3, 0.4, 0.2, 0.5, 0.3, 0.1, 0.4, 0.3, 0.5, 0.2,
                0.4, 0.2, 0.3, 0.5, 0.2]

models = [M87_model, A3526_model, NGC4636_model, NGC5044_model, M49_model, NGC4649_model, NGC5813_model, NGC5846_model]
red_fixes = [M87_red_fix, A3526_red_fix, NGC4636_red_fix, NGC5044_red_fix, M49_red_fix, NGC4649_red_fix, NGC5813_red_fix, NGC5846_red_fix]
mag_fixes = [M87_mag_fix, A3526_mag_fix, NGC4636_mag_fix, NGC5044_mag_fix, M49_mag_fix, NGC4649_mag_fix, NGC5813_mag_fix, NGC5846_mag_fix]
blacks = [M87_black, A3526_black, NGC4636_black, NGC5044_black, M49_black, NGC4649_black, NGC5813_black, NGC5846_black]
grays = [M87_gray, A3526_gray, NGC4636_gray, NGC5044_gray, M49_gray, NGC4649_gray, NGC5813_gray, NGC5846_gray]

# ---------------------------------------------------------------- style
ytops = [97.5, 42.0, 25.9, 25.9, 12.15, 9.0, 16.0, 12.2]
ymajor = [20, 10, 5, 5, 2, 2, 5, 2]
yminor = [5, 2, 1, 1, 0.5, 0.5, 1, 0.5]
label_y = [0.726, 0.648, 0.695, 0.695, 0.667, 0.665, 0.688, 0.667]
dash_px = [10, 9, 10, 10, 10, 14, 12, 12]

sns.set_style("ticks")
plt.rcParams["font.family"] = ["Liberation Sans", "DejaVu Sans"]
plt.rcParams["mathtext.fontset"] = "custom"
plt.rcParams["mathtext.rm"] = "Liberation Sans"
plt.rcParams["mathtext.it"] = "Liberation Sans"
plt.rcParams["mathtext.default"] = "regular"

RED = "#ff1f1f"
MAG = "#ff00ff"
GRAY = "#6f8090"
ORANGE = "#ffa500"

W, H = 1258, 1596
fig = plt.figure(figsize=(W / 100, H / 100), dpi=100)
col_left = [137, 731]
ax_w = 519
row_h = 371.75

centers = wl_edges[:-1] + 0.1
ylab_shift = mtransforms.ScaledTranslation(0, -8 / 100, fig.dpi_scale_trans)


def build(base, fixes, gap):
    out = np.array(base, dtype=float)
    for lo, hi, v in fixes:
        out[(centers > lo) & (centers < hi)] = v
    if gap is not None:
        out[(centers > gap[0]) & (centers < gap[1])] = 0.0
    return out


for k in range(8):
    r, c = divmod(k, 2)
    top_px = 5 + row_h * r
    ax = fig.add_axes([col_left[c] / W, 1 - (top_px + row_h) / H, ax_w / W, row_h / H])

    red = build(models[k], red_fixes[k], rgs1_gaps[k])
    mag = build(models[k], mag_fixes[k], rgs2_gaps[k])

    ms = (dash_px[k] * 0.72) ** 2
    dfb = pd.DataFrame({"wl": centers - 0.05, "flux": blacks[k]}).dropna()
    dfg = pd.DataFrame({"wl": centers + 0.05, "flux": grays[k]}).dropna()
    sns.scatterplot(data=dfb, x="wl", y="flux", ax=ax, marker="|", s=ms,
                    linewidth=2.4, color="black", zorder=2, legend=False)
    sns.scatterplot(data=dfg, x="wl", y="flux", ax=ax, marker="|", s=ms,
                    linewidth=2.4, color=GRAY, zorder=3, legend=False)

    dfr = pd.DataFrame({"wl": wl_edges, "flux": np.append(red, red[-1])})
    dfm = pd.DataFrame({"wl": wl_edges, "flux": np.append(mag, mag[-1])})
    sns.lineplot(data=dfr, x="wl", y="flux", ax=ax, color=RED, linewidth=1.3,
                 drawstyle="steps-post", estimator=None, zorder=4, legend=False)
    sns.lineplot(data=dfm, x="wl", y="flux", ax=ax, color=MAG, linewidth=1.3,
                 drawstyle="steps-post", estimator=None, zorder=5, legend=False)

    ax.set_xlim(7, 28)
    ax.set_ylim(-0.008 * ytops[k], ytops[k])
    ax.xaxis.set_major_locator(MultipleLocator(5))
    ax.xaxis.set_minor_locator(MultipleLocator(1))
    yt = np.arange(ymajor[k], ytops[k] + 1e-6, ymajor[k])
    ax.yaxis.set_major_locator(FixedLocator(yt))
    ax.yaxis.set_minor_locator(MultipleLocator(yminor[k]))
    ax.set_yticklabels([f"{v:g}" for v in yt])

    for s in ax.spines.values():
        s.set_linewidth(1.8)
        s.set_color("black")
    ax.tick_params(which="both", direction="in", top=True, right=True,
                   width=1.8, color="black", labelsize=18, labelcolor="black")
    ax.tick_params(which="major", length=10)
    ax.tick_params(which="minor", length=5)
    ax.tick_params(axis="y", pad=10)
    ax.tick_params(axis="x", pad=17.5)

    # y tick labels sit a little below their ticks, as in the original
    for t in ax.yaxis.get_major_ticks():
        t.label1.set_transform(t.label1.get_transform() + ylab_shift)

    if r < 3:
        ax.tick_params(labelbottom=False)
        ax.set_xlabel("")
    else:
        ax.set_xlabel("Wavelength (Å)", fontsize=23, labelpad=13.5)
    if c == 0:
        ax.set_ylabel("Counts/m$^2$/s/Å", fontsize=21.5)
        ax.yaxis.set_label_coords(-0.172, 0.5)
    else:
        ax.set_ylabel("")

    ax.text(0.6, 0.496, galaxies[k], transform=ax.transAxes, fontsize=22.5,
            ha="left", va="baseline", color="black", zorder=6)
    ax.text(0.6, 0.397, obsids[k], transform=ax.transAxes, fontsize=22.5,
            ha="left", va="baseline", color="black", zorder=6)

    trans = ax.get_xaxis_transform()
    for name, w in zip(line_names, line_waves):
        ax.text(w * (1 + redshifts[k]), label_y[k], name, transform=trans,
                rotation=90, rotation_mode="anchor", ha="left", va="baseline",
                color=ORANGE, fontsize=18.5, zorder=6)

fig.savefig("out.png", dpi=100)
